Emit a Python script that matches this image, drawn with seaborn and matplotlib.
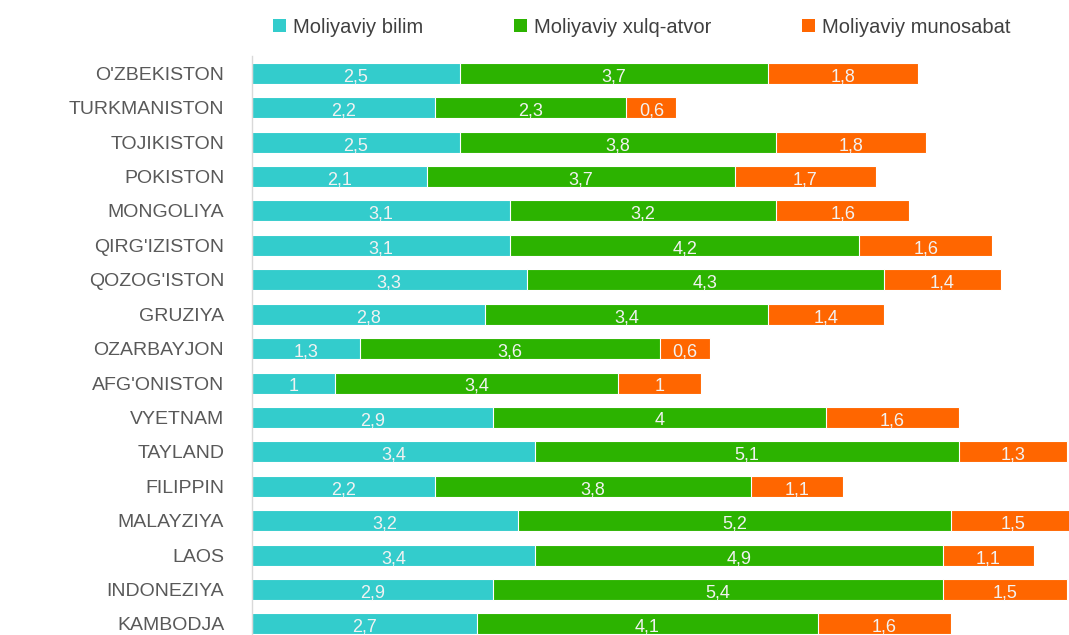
import numpy as np
import pandas as pd
import matplotlib
matplotlib.use("Agg")
import matplotlib.pyplot as plt
import seaborn as sns
from matplotlib.patches import Patch

countries = ["O'ZBEKISTON", "TURKMANISTON", "TOJIKISTON", "POKISTON", "MONGOLIYA",
             "QIRG'IZISTON", "QOZOG'ISTON", "GRUZIYA", "OZARBAYJON", "AFG'ONISTON",
             "VYETNAM", "TAYLAND", "FILIPPIN", "MALAYZIYA", "LAOS", "INDONEZIYA",
             "KAMBODJA"]
bilim = [2.5, 2.2, 2.5, 2.1, 3.1, 3.1, 3.3, 2.8, 1.3, 1.0, 2.9, 3.4, 2.2, 3.2, 3.4, 2.9, 2.7]
xulq = [3.7, 2.3, 3.8, 3.7, 3.2, 4.2, 4.3, 3.4, 3.6, 3.4, 4.0, 5.1, 3.8, 5.2, 4.9, 5.4, 4.1]
munosabat = [1.8, 0.6, 1.8, 1.7, 1.6, 1.6, 1.4, 1.4, 0.6, 1.0, 1.6, 1.3, 1.1, 1.5, 1.1, 1.5, 1.6]
series_names = ["Moliyaviy bilim", "Moliyaviy xulq-atvor", "Moliyaviy munosabat"]
colors = ["#33CCCC", "#2CB300", "#FF6600"]

df = pd.DataFrame({"country": countries, "bilim": bilim, "xulq": xulq, "munosabat": munosabat})
df["c1"] = df["bilim"]
df["c2"] = df["c1"] + df["xulq"]
df["c3"] = df["c2"] + df["munosabat"]

sns.set_style("white")
plt.rcParams["font.family"] = ["Liberation Sans", "DejaVu Sans"]

fig = plt.figure(figsize=(10.69, 6.35), dpi=100)
ax = fig.add_axes([252 / 1069, 0.0, 1 - 252 / 1069, 1 - 56 / 635])

# stacked bars: draw cumulative totals from the back to the front
for col, color in zip(["c3", "c2", "c1"], colors[::-1]):
    sns.barplot(data=df, x=col, y="country", orient="h", color=color, width=0.61,
                edgecolor="white", linewidth=0.8, saturation=1, ax=ax)

def fmt(v):
    return ("%g" % v).replace(".", ",")

for i, row in df.iterrows():
    for val, end in [(row["bilim"], row["c1"]), (row["xulq"], row["c2"]), (row["munosabat"], row["c3"])]:
        ax.text(end - val / 2, i + 0.1, fmt(val), ha="center", va="center",
                color="#F2F2F2", fontsize=13)

ax.set_xlim(0, 9.82)
ax.set_ylim(16.32, -0.5)
ax.set_xlabel("")
ax.set_ylabel("")
ax.set_xticks([])
ax.tick_params(axis="y", length=0, pad=20, labelsize=14, labelcolor="#595959")
for s in ["top", "right", "bottom"]:
    ax.spines[s].set_visible(False)
ax.spines["left"].set_color("#D9D9D9")
ax.spines["left"].set_linewidth(1)

handles = [Patch(facecolor=c, edgecolor="none") for c in colors]
fig.legend(handles, series_names, loc="center", bbox_to_anchor=(0.6, 0.957), ncol=3,
           frameon=False, fontsize=14.5, handlelength=0.65, handleheight=0.65,
           handletextpad=0.35, columnspacing=4.5, labelcolor="#404040")

fig.savefig("out.png", dpi=100)
